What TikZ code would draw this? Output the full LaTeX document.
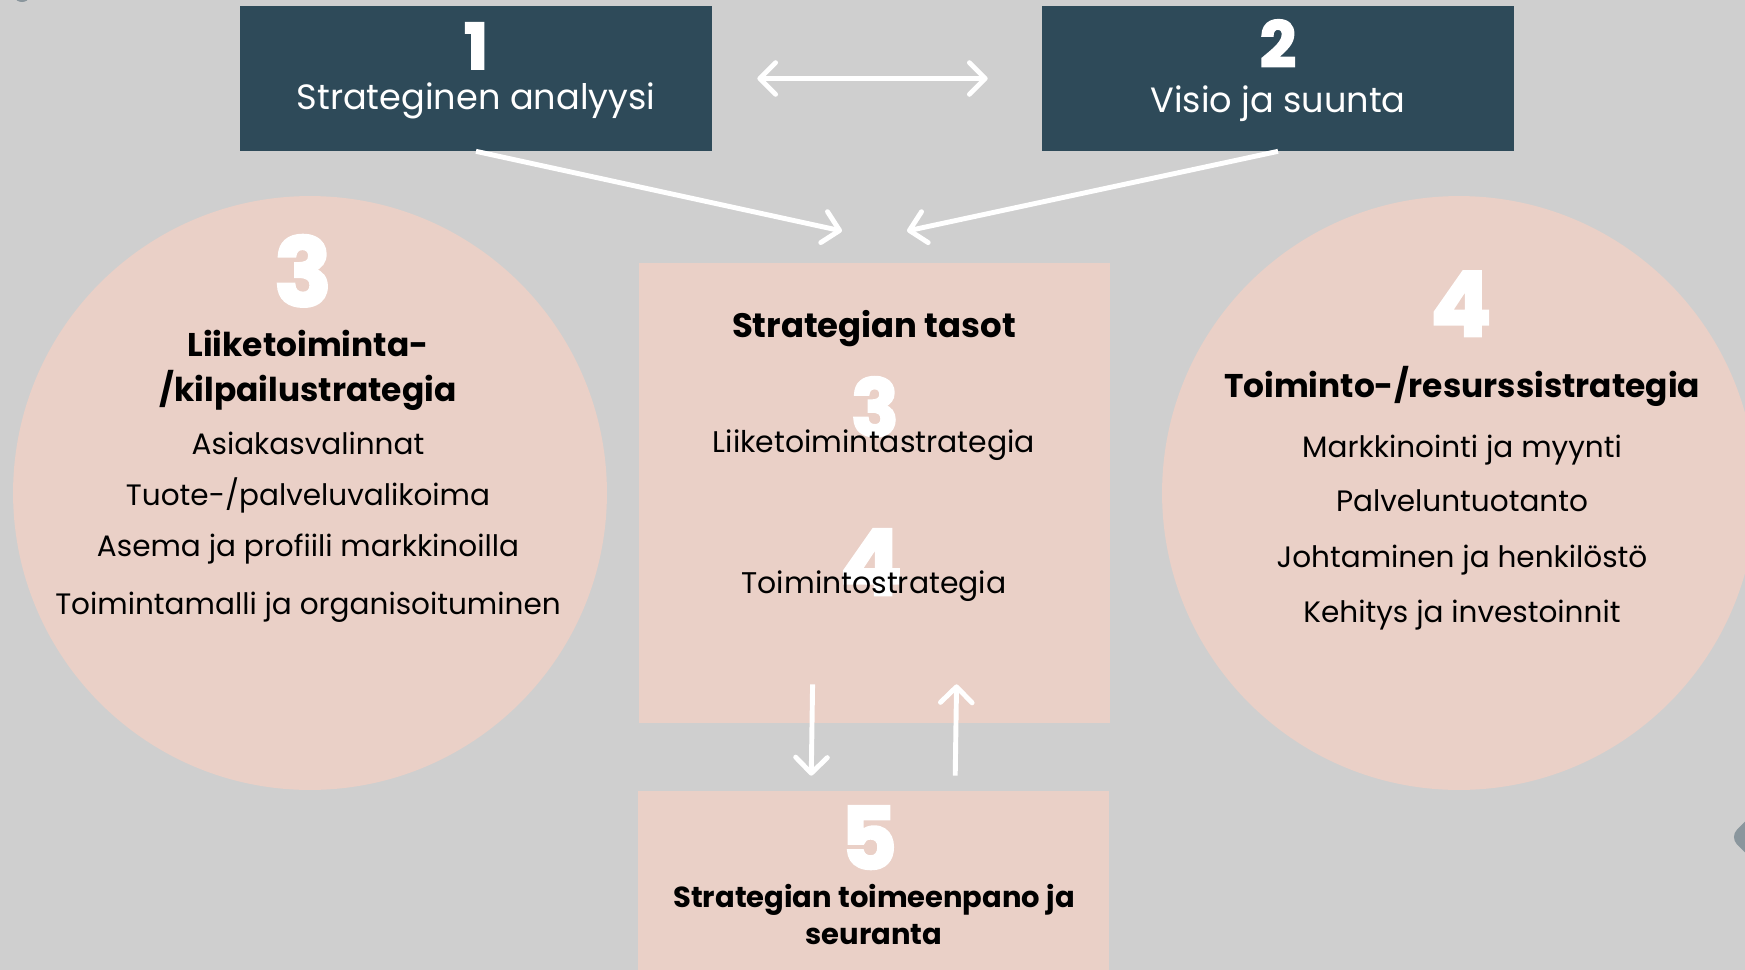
\documentclass[tikz,border=0pt]{standalone}
\usepackage{fontspec}
\setmainfont{Poppins}
\newfontfamily\numfont{Poppins}[FakeBold=3]
\usetikzlibrary{arrows.meta}

\definecolor{bggray}{RGB}{207,207,207}
\definecolor{slate}{RGB}{46,74,89}
\definecolor{blush}{RGB}{234,208,199}
\definecolor{navgray}{RGB}{138,150,157}

\begin{document}
\begin{tikzpicture}[x=0.02cm, y=-0.02cm,
	darkbox/.style={fill=slate, inner sep=0, minimum width=9.44cm, minimum height=2.9cm},
	pinkbox/.style={fill=blush, inner sep=0, minimum width=9.42cm},
	disc/.style={circle, fill=blush, inner sep=0, minimum size=11.88cm},
	num/.style={text=white, anchor=base, inner sep=0, font=\fontsize{#1}{#1}\selectfont\numfont\bfseries},
	title/.style 2 args={anchor=base, inner sep=0, align=center, font=\fontsize{#1}{#2}\selectfont\bfseries},
	entry/.style={anchor=base, inner sep=0, font=\fontsize{#1}{#1}\selectfont},
	flow/.style={draw=white, line width=2.8pt, -{Straight Barb[length=9pt,width=18pt,round]}}]

			\useasboundingbox [fill=bggray] (0,0) rectangle (1745,970);
			\fill [navgray] (22,-3) ellipse (7 and 5);
			\node [fill=navgray, rotate=45, rounded corners=6pt, minimum size=1.2cm] (nav) at (1772,837) {};

			% kaksi ylalaatikkoa
			\node [darkbox] (analyysi) at (476,78.5) {};
			\node [darkbox] (visio) at (1278,78.5) {};
			\node [num=36] (n1) at (476,69) {1};
			\node [num=36] (n2) at (1278,67) {2};
			\node [entry=20, text=white] (analyysiT) at (476,109) {Strateginen analyysi};
			\node [entry=20, text=white] (visioT) at (1278,112) {Visio ja suunta};

			% ympyrat ja laatikot
			\node [disc] (liike) at (310,493) {};
			\node [disc] (resurssi) at (1459,493) {};
			\node [pinkbox, minimum height=9.2cm] (tasot) at (874.5,493) {};
			\node [pinkbox, minimum height=3.8cm] (toimeenpano) at (873.5,886) {};

			\node [num=54] (n3) at (303,306) {3};
			\node [title={18.7}{25.5}] (liikeT) at (308,401) {Liiketoiminta-\\/kilpailustrategia};
			\foreach \y/\t [count=\i] in {454/Asiakasvalinnat, 505/{Tuote-/palveluvalikoima}, 556/Asema ja profiili markkinoilla, 614/Toimintamalli ja organisoituminen} {
				\node [entry=16.8] (liike\i) at (308,\y) {\t};
			}

			\node [num=51] (n4) at (1461,336) {4};
			\node [title={18.7}{25.5}] (resurssiT) at (1462,397) {Toiminto-/resurssistrategia};
			\foreach \y/\t [count=\i] in {457/Markkinointi ja myynti, 511/Palveluntuotanto, 567/Johtaminen ja henkilöstö, 622/Kehitys ja investoinnit} {
				\node [entry=16.8] (resurssi\i) at (1462,\y) {\t};
			}

			\node [title={19.3}{25}] (tasotT) at (874,337) {Strategian tasot};
			\node [num=45] (t3) at (875,436) {3};
			\node [num=52] (t4) at (871,595) {4};
			\node [entry=17] (taso1) at (874,452) {Liiketoimintastrategia};
			\node [entry=17] (taso2) at (874,593) {Toimintostrategia};

			\node [num=49] (n5) at (869,869) {5};
			\node [title={16.5}{21}] (toimeenpanoT) at (874,944) {Strategian toimeenpano ja\\seuranta};

			% nuolet
			\coordinate (meetL) at (842,231);
			\coordinate (meetR) at (907,231);
			\draw [flow, {Straight Barb[length=9pt,width=18pt,round]}-{Straight Barb[length=9pt,width=18pt,round]}, shorten <=0.9cm, shorten >=1.08cm] (analyysi.east) -- (visio.west);
			\draw [flow] (analyysi.south) -- (meetL);
			\draw [flow] (visio.south) -- (meetR);
			\draw [flow, shorten <=-0.78cm, shorten >=0.3cm] ([xshift=-1.25cm]tasot.south) -- ([xshift=-1.25cm]toimeenpano.north);
			\draw [flow, shorten <=0.3cm, shorten >=-0.78cm] ([xshift=1.63cm]toimeenpano.north) -- ([xshift=1.63cm]tasot.south);
		\end{tikzpicture}
\end{document}
